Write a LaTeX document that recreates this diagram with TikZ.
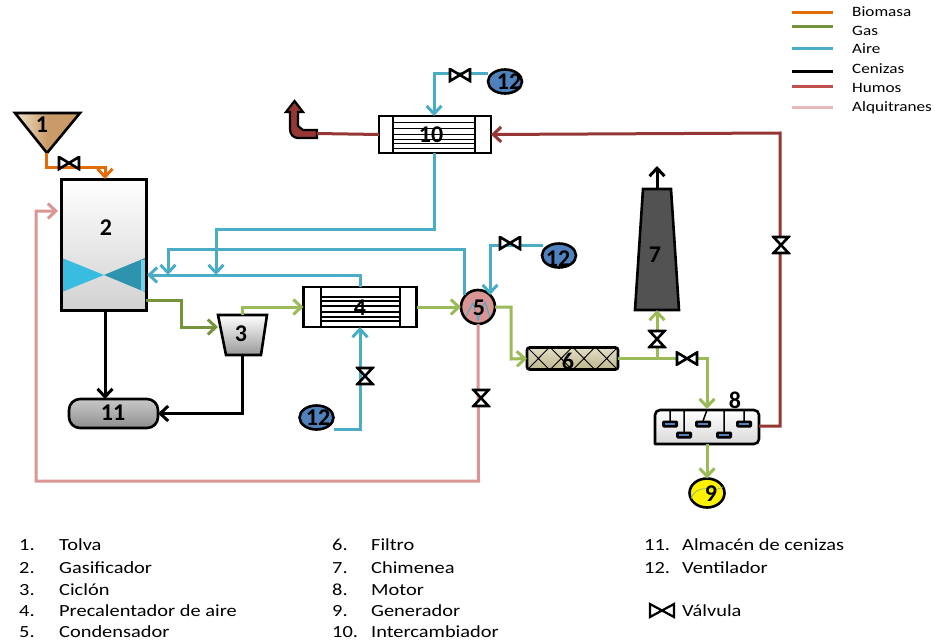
\documentclass[tikz,border=0pt]{standalone}
\usepackage{fontspec}
\setmainfont[FakeStretch=1.2]{Carlito}
\newfontfamily\tagfont[BoldFont=Carlito Bold]{Carlito}
\usetikzlibrary{arrows.meta,shapes.geometric,calc}
\definecolor{cBio}{HTML}{E36C09}
\definecolor{cGasD}{HTML}{76923C}
\definecolor{cGasL}{HTML}{9BBB59}
\definecolor{cAir}{HTML}{4BACC6}
\definecolor{cHum}{HTML}{953735}
\definecolor{cPink}{HTML}{D99694}
\definecolor{cLegH}{HTML}{C0504D}
\definecolor{cLegA}{HTML}{E6B9B8}
\definecolor{cFan}{HTML}{4F81BD}
\definecolor{cTan}{HTML}{C89B68}
\definecolor{cTanL}{HTML}{F3E3CC}
\definecolor{cFilA}{HTML}{E4DFC8}
\definecolor{cFilB}{HTML}{BDB58C}
\definecolor{cBlA}{HTML}{38BCE0}
\definecolor{cBlB}{HTML}{2E93AE}
\tikzset{
  x=1pt,y=-1pt,
  barb/.style={-{Straight Barb[length=8pt,width=15pt,line width=3pt]}},
  flow/.style={line width=3pt,line join=miter},
  bio/.style={flow,draw=cBio},
  gasd/.style={flow,draw=cGasD},
  gasl/.style={flow,draw=cGasL},
  air/.style={flow,draw=cAir},
  ash/.style={flow,draw=black},
  hum/.style={flow,draw=cHum},
  tar/.style={flow,draw=cPink},
  equip/.style={draw=black,line width=2.6pt,inner sep=0pt,outer sep=0pt},
  tag/.style={font=\tagfont\bfseries\fontsize{24}{24}\selectfont,inner sep=0pt},
  fanbox/.style={equip,ellipse,fill=cFan,minimum width=34pt,minimum height=24pt},
  valveh/.style={minimum width=23pt,minimum height=14pt,inner sep=0pt,outer sep=0pt,
    path picture={\draw[line width=2.6pt,fill=white,line join=miter]
      (-10,-6)--(10,6)--(10,-6)--(-10,6)--cycle;}},
  valvev/.style={minimum width=19pt,minimum height=19pt,inner sep=0pt,outer sep=0pt,
    path picture={\draw[line width=2.6pt,fill=white,line join=miter]
      (-7.5,-8)--(7.5,-8)--(-7.5,8)--(7.5,8)--cycle;}},
  listt/.style={anchor=base west,inner sep=0pt,font=\fontsize{17}{17}\selectfont},
  legt/.style={anchor=base west,inner sep=0pt,font=\fontsize{14.3}{14.3}\selectfont},
  legl/.style={line width=3pt},
}
\begin{document}
\begin{tikzpicture}
\path[use as bounding box] (0,0) rectangle (941,642);
% ---------- equipment
\coordinate (hopL) at (15,113); \coordinate (hopR) at (80,113); \coordinate (hopT) at (47,153);
\draw[line width=2.6pt,line join=miter,left color=cTanL,right color=cTan,middle color=cTan]
  (hopL)--(hopR)--(hopT)--cycle;
\node[equip,minimum width=85pt,minimum height=131pt,top color=white,bottom color=black!18] (gas) at (104,245) {};
\fill[cBlA] (62,258)--(104,275)--(62,292)--cycle;
\fill[cBlB] (145,258)--(104,275)--(145,292)--cycle;
\fill[cBlA!70!white] (141,259.5) rectangle (145,290.5);
\draw[black,line width=2.6pt] (gas.north west) rectangle (gas.south east);
% cyclone
\coordinate (cycA) at (218,315); \coordinate (cycB) at (267,315);
\coordinate (cycC) at (261,355); \coordinate (cycD) at (226,355);
\draw[line width=2.6pt,line join=miter,top color=white,bottom color=black!40] (cycA)--(cycB)--(cycC)--(cycD)--cycle;
% silo 11
\node[equip,rounded corners=11pt,minimum width=89pt,minimum height=29pt,top color=black!22,bottom color=black!45,middle color=black!32] (sil) at (113.5,413.5) {};
% HX 4
\node[equip,minimum width=113pt,minimum height=40pt,fill=white] (hxa) at (360,307) {};
\foreach \y in {297,301,306,312,317,321} \draw[line width=1.3pt] (321,\y)--(400,\y);
\draw[line width=2.6pt] (321,287)--(321,327) (400,287)--(400,327);
% HX 10
\node[equip,minimum width=112pt,minimum height=37pt,fill=white] (hxb) at (435,134.5) {};
\foreach \y in {122,128,134,139,143,148} \draw[line width=1pt] (393,\y)--(475,\y);
\draw[line width=2pt] (393,116)--(393,153) (475,116)--(475,153);
% filter 6
\node[equip,rounded corners=2.5pt,minimum width=91pt,minimum height=22pt,top color=cFilA,bottom color=cFilB,
  path picture={\foreach \i in {0,1,2,3}{\draw[line width=.9pt]
     (-45.5+\i*22.75,-11.5)--++(22.75,23) (-45.5+\i*22.75,11.5)--++(22.75,-23);}}] (fil) at (572.5,358.5) {};
% chimney
\coordinate (chA) at (643,189); \coordinate (chB) at (671,189);
\coordinate (chC) at (679,310); \coordinate (chD) at (635,310);
\draw[line width=2.6pt,line join=miter,fill=black!68] (chA)--(chB)--(chC)--(chD)--cycle;
% engine
\coordinate (engR) at (759,426);
\draw[line width=2.6pt,line join=round,top color=white,bottom color=black!15,rounded corners=5pt]
  (655,444)--(655,410)--(759,410)--(759,444)[sharp corners]--cycle;
\draw[line width=1.5pt] (670,410)--(670,421) (684,410)--(684,432) (707,410)--(703,421) (724,410)--(724,432) (744,410)--(744,421);
\foreach \x/\y in {670/424,684/435,703/424,724/435,744/424}{
  \fill[black,rounded corners=1.5pt] (\x-8,\y-3.5) rectangle (\x+8,\y+3.5);
  \fill[cFan] (\x-5,\y-1) rectangle (\x+5,\y+1);}
% condenser
\node[equip,circle,minimum size=34pt,fill=cPink] (con) at (478,307) {};
\draw[cAir,line width=1pt] (466,316)--(473,303)--(478,320)--(485,302)--(490,317);
% generator
\node[equip,ellipse,minimum width=35pt,minimum height=29pt,fill=yellow] (gen) at (707,493) {};
\draw[cGasL!70!cAir,line width=.7pt] (691,499) .. controls (694,488) and (705,488) .. (712,489) .. controls (718,490) and (720,488) .. (723,487);
% fans
\node[fanbox] (fana) at (505,81.5) {};
\node[fanbox] (fanb) at (559,255.5) {};
\node[fanbox] (fanc) at (316.5,417.5) {};
% ---------- stack arrow
\coordinate (stackS) at (317,133.5);
\draw[line width=2.2pt,line join=miter,fill=cHum]
  (317,130)--(303,130)--(298,126)--(298,112)--(303,112)--(294.5,101)--(286,112)--(290,112)--(290,129)
  .. controls (290,134) and (293,138) .. (298,138)--(317,138)--cycle;
% ---------- coordinates on connectors
\coordinate (hopOut) at (46,153);
\coordinate (gasIn) at (105,179);
\coordinate (gasAirIn) at (147,275);
\coordinate (gasOut) at (146,300);
\coordinate (gasTar) at (58,211);
\coordinate (cycIn) at (218,327);
\coordinate (cycTop) at (242,315);
\coordinate (cycBot) at (242,355);
\coordinate (fanaOut) at (488,73);
\coordinate (fanbOut) at (543,245);
\coordinate (fancOut) at (334,429);
\coordinate (conAirA) at (490,295);
\coordinate (conAirB) at (464,295);
\coordinate (brAir) at (657,358.5);
% ---------- connectors
\draw[bio,barb] (hopOut)--(46,167)-|(gasIn);
\draw[gasd,barb] (gasOut)-|(181,327)--(cycIn);
\draw[ash,barb] (gas.south -| 105,0)--(sil.north -| 105,0);
\draw[ash,barb] (cycBot)|-(sil.east);
\draw[gasl,barb] (cycTop)|-(hxa.west);
\draw[gasl,barb] (hxa.east)--(con.west);
\draw[gasl,barb] (con.east)-|(511,359)--(fil.west);
\draw[gasl] (fil.east)--(brAir);
\draw[gasl,barb] (brAir)--(657,310);
\draw[gasl,barb] (brAir)-|(707,409);
\draw[gasl,barb] (707,444)--(gen.north);
\draw[ash,barb] (657,189)--(657,166);
\draw[hum,barb] (engR)-|(780,133)--(hxb.east);
\draw[hum] (hxb.west)--(stackS);
\draw[tar,barb] (con.south)--(478.5,481)-|(36,211)--(gasTar);
\draw[air,barb] (fana.west |- fanaOut)-|(hxb.north -| 434,0);
\draw[air,barb] (hxb.south -| 434,0)--(434,229)-|(216,275);
\draw[air,barb] (conAirB)--(464,249)-|(168,275);
\draw[air,barb] (hxa.north)--(360,275)--(gasAirIn);
\draw[air,barb] (fanbOut)-|(conAirA);
\draw[air,barb] (fancOut)-|(hxa.south);
% ---------- valves
\node[valveh] (va) at (69,163) {};
\node[valveh] (vb) at (460,75) {};
\node[valveh] (vc) at (510,243) {};
\node[valveh] (vd) at (687,358.5) {};
\node[valvev] (ve) at (365,376) {};
\node[valvev] (vf) at (481,398) {};
\node[valvev] (vg) at (657,339) {};
\node[valvev] (vh) at (781,245) {};
% ---------- tags
\node[tag] (t1) at (42,125) {1};
\node[tag] (t2) at (106,228) {2};
\node[tag] (t3) at (241,334) {3};
\node[tag] (t4) at (360,308) {4};
\node[tag] (t5) at (479,308) {5};
\node[tag] (t6) at (568,361) {6};
\node[tag] (t7) at (655,255) {7};
\node[tag] (t8) at (735,400) {8};
\node[tag] (t9) at (711,494) {9};
\node[tag] (t10) at (431,135) {10};
\node[tag] (t11) at (113,413) {11};
\node[tag] (t12a) at (509,82) {12};
\node[tag] (t12b) at (558,259) {12};
\node[tag] (t12c) at (318,418) {12};
% ---------- legend
\foreach \n/\c/\y/\b/\t in {a/cBio/13/17/Biomasa,b/cGasD/27/36/Gas,c/cAir/49/54/Aire,d/black/71/74/Cenizas,e/cLegH/86/92/Humos,f/cLegA/107/111/Alquitranes}{
  \coordinate (lg\n a) at (792,\y); \coordinate (lg\n b) at (833,\y);
  \draw[legl,draw=\c] (lg\n a)--(lg\n b);
  \node[legt] (lt\n) at (852,\b) {\t};
}
% ---------- list
\foreach \n/\x/\y/\t in {1./19/550/Tolva,2./19/573/Gasificador,3./19/595/Ciclón,4./19/616.5/Precalentador de aire,5./19/637.5/Condensador,
  6./332/550/Filtro,7./332/573/Chimenea,8./332/595/Motor,9./332/616.5/Generador,10./332/637.5/Intercambiador,
  11./644/550/Almacén de cenizas,12./644/573/Ventilador}{
  \node[listt] (n\n) at (\x,\y) {\n};
  \node[listt] (m\n) at (\x+\ifnum\x=19 40\else\ifnum\x=332 39\else 38\fi\fi,\y) {\t};
}
\node[minimum width=28pt,minimum height=19pt,inner sep=0pt,
  path picture={\draw[line width=2.2pt,line join=miter,fill=white]
    (-12,-6.5)--(12,6.5)--(12,-6.5)--(-12,6.5)--cycle;}] (vleg) at (662,610.5) {};
\node[listt] (lv) at (682,616.5) {Válvula};
\end{tikzpicture}
\end{document}
